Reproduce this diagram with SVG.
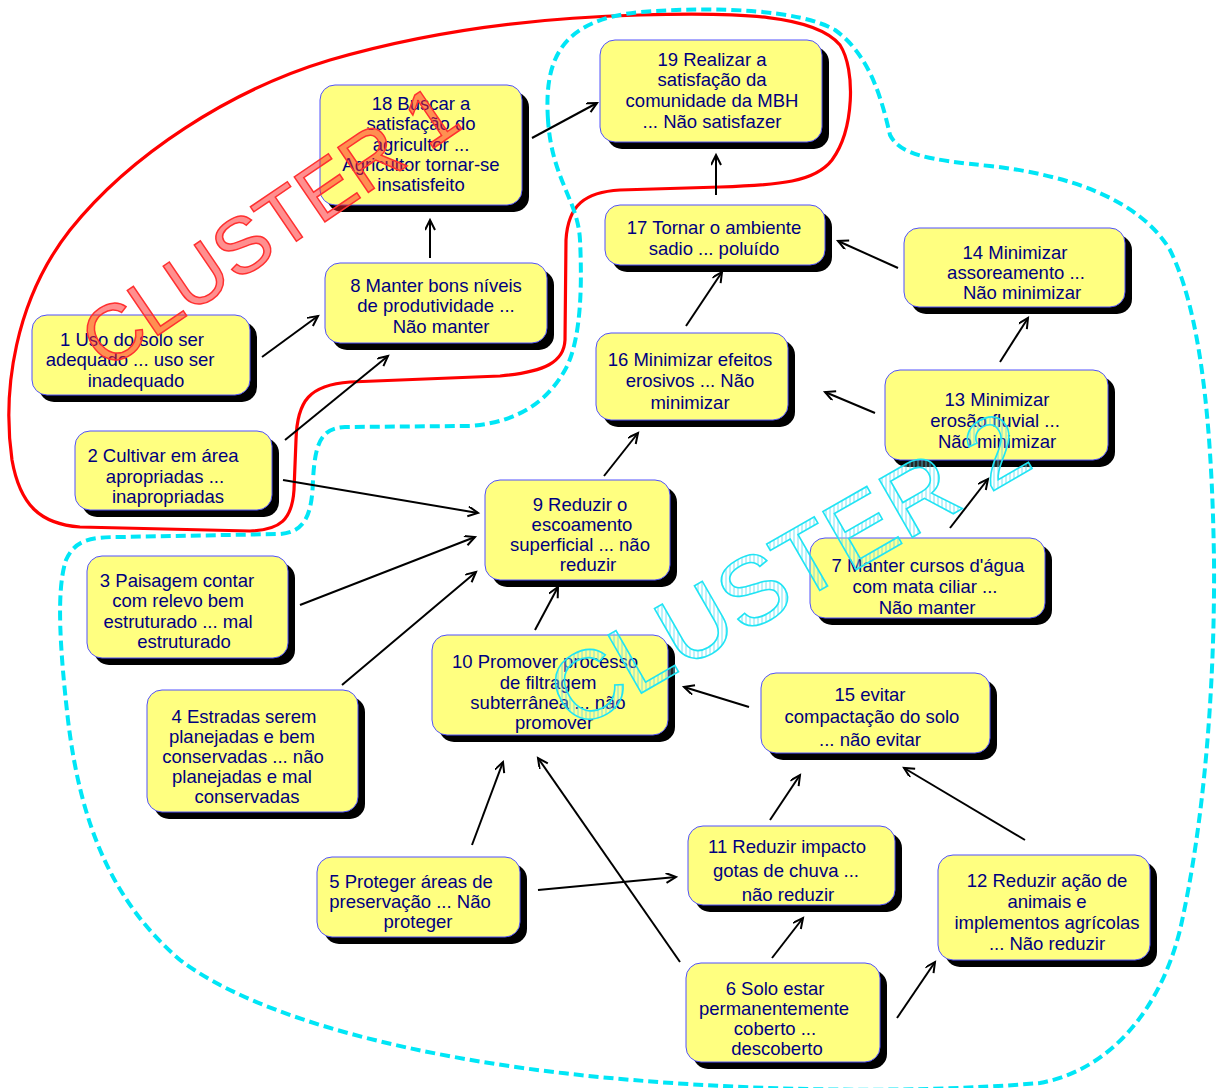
<svg xmlns="http://www.w3.org/2000/svg" width="1218" height="1088" viewBox="0 0 1218 1088">
<style>
.sh{fill:#000}
.bx{fill:#ffff80;stroke:#5050ff;stroke-width:1}
.t{font-family:"Liberation Sans",Arial,sans-serif;font-size:18.5px;fill:#000080;text-anchor:middle}
.c{stroke:#000;stroke-width:2;fill:none;marker-end:url(#ah)}
</style>
<defs>
<marker id="ah" markerUnits="userSpaceOnUse" markerWidth="14" markerHeight="12" refX="11" refY="5" orient="auto">
<path d="M1,0 L11,5 L1,10" fill="none" stroke="#000" stroke-width="2"/>
</marker>
<pattern id="hatch" patternUnits="userSpaceOnUse" width="4" height="4" patternTransform="rotate(29.9)">
<rect width="4" height="4" fill="#ffffff" fill-opacity="0.15"/>
<line x1="1" y1="0" x2="1" y2="4" stroke="#40d8ee" stroke-width="1" stroke-opacity="0.7"/>
</pattern>
</defs>
<rect width="1218" height="1088" fill="#fff"/>

<g id="clusters">
<path id="cluster1-boundary" d="M 640,15 C 740,12 815,15 840,45 C 856,70 854,130 832,160 C 815,182 780,185 720,187 L 620,190 C 585,192 568,205 566,240 L 565,340 C 564,362 545,372 500,376 L 350,382 C 310,385 297,400 296,440 L 294,490 C 292,520 280,530 250,531 L 80,527 C 40,524 20,505 12,460 C 2,390 15,300 70,230 C 130,155 230,90 330,60 C 450,25 560,17 640,15 Z" fill="none" stroke="#ff0000" stroke-width="3.2"/>
<path id="cluster2-boundary" d="M 548,120 C 544,60 560,20 640,12 C 720,6 800,10 835,30 C 870,55 882,100 890,135 C 900,155 930,160 990,166 C 1070,175 1140,200 1170,250 C 1200,310 1212,420 1214,560 C 1215,680 1205,820 1180,930 C 1160,1010 1110,1070 1040,1083 C 900,1095 720,1090 580,1075 C 420,1058 260,1020 180,960 C 110,900 80,820 68,720 C 60,650 56,590 66,560 C 75,540 90,537 120,537 L 280,534 C 305,532 312,515 313,480 C 315,445 320,428 345,427 L 470,426 C 520,422 548,400 565,370 C 582,340 582,280 580,240 C 578,200 552,180 548,120 Z" fill="none" stroke="#00e6f6" stroke-width="4" stroke-dasharray="10 5"/>
</g>

<g id="connectors">
<line class="c" x1="532" y1="138" x2="597" y2="103"/>
<line class="c" x1="430" y1="258" x2="430" y2="220"/>
<line class="c" x1="262" y1="357" x2="318" y2="316"/>
<line class="c" x1="285" y1="440" x2="388" y2="356"/>
<line class="c" x1="716" y1="195" x2="716" y2="155"/>
<line class="c" x1="686" y1="326" x2="722" y2="272"/>
<line class="c" x1="898" y1="268" x2="838" y2="241"/>
<line class="c" x1="1000" y1="362" x2="1028" y2="318"/>
<line class="c" x1="875" y1="413" x2="825" y2="392"/>
<line class="c" x1="604" y1="476" x2="638" y2="433"/>
<line class="c" x1="950" y1="528" x2="988" y2="479"/>
<line class="c" x1="283" y1="480" x2="478" y2="513"/>
<line class="c" x1="300" y1="605" x2="475" y2="537"/>
<line class="c" x1="342" y1="685" x2="476" y2="572"/>
<line class="c" x1="535" y1="630" x2="558" y2="587"/>
<line class="c" x1="749" y1="707" x2="684" y2="687"/>
<line class="c" x1="472" y1="845" x2="503" y2="762"/>
<line class="c" x1="680" y1="962" x2="538" y2="758"/>
<line class="c" x1="538" y1="890" x2="676" y2="877"/>
<line class="c" x1="772" y1="958" x2="803" y2="918"/>
<line class="c" x1="770" y1="820" x2="800" y2="775"/>
<line class="c" x1="1025" y1="840" x2="904" y2="768"/>
<line class="c" x1="897" y1="1018" x2="935" y2="962"/>
</g>

<g id="n19"><rect class="sh" x="607" y="47" width="222" height="102" rx="15"/><rect class="bx" x="600" y="40" width="222" height="102" rx="15"/>
<text class="t"><tspan x="712" y="66">19 Realizar a</tspan><tspan x="712" y="86">satisfação da</tspan><tspan x="712" y="107">comunidade da MBH</tspan><tspan x="712" y="128">... Não satisfazer</tspan></text></g>

<g id="n18"><rect class="sh" x="327" y="92" width="202" height="120" rx="15"/><rect class="bx" x="320" y="85" width="202" height="120" rx="15"/>
<text class="t"><tspan x="421" y="110">18 Buscar a</tspan><tspan x="421" y="130">satisfação do</tspan><tspan x="421" y="151">agricultor ...</tspan><tspan x="421" y="171">Agricultor tornar-se</tspan><tspan x="421" y="191">insatisfeito</tspan></text></g>

<g id="n8"><rect class="sh" x="332" y="270" width="222" height="80" rx="15"/><rect class="bx" x="325" y="263" width="222" height="80" rx="15"/>
<text class="t"><tspan x="436" y="292">8 Manter bons níveis</tspan><tspan x="436" y="312">de produtividade ...</tspan><tspan x="441" y="333">Não manter</tspan></text></g>

<g id="n1"><rect class="sh" x="39" y="322" width="218" height="80" rx="15"/><rect class="bx" x="32" y="315" width="218" height="80" rx="15"/>
<text class="t"><tspan x="132" y="346">1 Uso do solo ser</tspan><tspan x="130" y="366">adequado ... uso ser</tspan><tspan x="136" y="387">inadequado</tspan></text></g>

<g id="n2"><rect class="sh" x="82" y="438" width="197" height="79" rx="15"/><rect class="bx" x="75" y="431" width="197" height="79" rx="15"/>
<text class="t"><tspan x="163" y="462">2 Cultivar em área</tspan><tspan x="165" y="483">apropriadas ...</tspan><tspan x="168" y="503">inapropriadas</tspan></text></g>

<g id="n3"><rect class="sh" x="94" y="563" width="201" height="102" rx="15"/><rect class="bx" x="87" y="556" width="201" height="102" rx="15"/>
<text class="t"><tspan x="177" y="587">3 Paisagem contar</tspan><tspan x="178" y="607">com relevo bem</tspan><tspan x="178" y="628">estruturado ... mal</tspan><tspan x="184" y="648">estruturado</tspan></text></g>

<g id="n4"><rect class="sh" x="154" y="697" width="211" height="122" rx="15"/><rect class="bx" x="147" y="690" width="211" height="122" rx="15"/>
<text class="t"><tspan x="244" y="723">4 Estradas serem</tspan><tspan x="242" y="743">planejadas e bem</tspan><tspan x="243" y="763">conservadas ... não</tspan><tspan x="242" y="783">planejadas e mal</tspan><tspan x="247" y="803">conservadas</tspan></text></g>

<g id="n9"><rect class="sh" x="492" y="487" width="185" height="100" rx="15"/><rect class="bx" x="485" y="480" width="185" height="100" rx="15"/>
<text class="t"><tspan x="580" y="511">9 Reduzir o</tspan><tspan x="582" y="531">escoamento</tspan><tspan x="580" y="551">superficial ... não</tspan><tspan x="588" y="571">reduzir</tspan></text></g>

<g id="n10"><rect class="sh" x="439" y="642" width="236" height="100" rx="15"/><rect class="bx" x="432" y="635" width="236" height="100" rx="15"/>
<text class="t"><tspan x="545" y="668">10 Promover processo</tspan><tspan x="548" y="689">de filtragem</tspan><tspan x="548" y="709">subterrânea ... não</tspan><tspan x="554" y="729">promover</tspan></text></g>

<g id="n16"><rect class="sh" x="603" y="340" width="192" height="87" rx="15"/><rect class="bx" x="596" y="333" width="192" height="87" rx="15"/>
<text class="t"><tspan x="690" y="366">16 Minimizar efeitos</tspan><tspan x="690" y="387">erosivos ... Não</tspan><tspan x="690" y="409">minimizar</tspan></text></g>

<g id="n17"><rect class="sh" x="612" y="212" width="220" height="60" rx="15"/><rect class="bx" x="605" y="205" width="220" height="60" rx="15"/>
<text class="t"><tspan x="714" y="234">17 Tornar o ambiente</tspan><tspan x="714" y="255">sadio ... poluído</tspan></text></g>

<g id="n14"><rect class="sh" x="911" y="235" width="221" height="79" rx="15"/><rect class="bx" x="904" y="228" width="221" height="79" rx="15"/>
<text class="t"><tspan x="1015" y="259">14 Minimizar</tspan><tspan x="1016" y="279">assoreamento ...</tspan><tspan x="1022" y="299">Não minimizar</tspan></text></g>

<g id="n13"><rect class="sh" x="892" y="377" width="223" height="90" rx="15"/><rect class="bx" x="885" y="370" width="223" height="90" rx="15"/>
<text class="t"><tspan x="997" y="406">13 Minimizar</tspan><tspan x="995" y="427">erosão fluvial ...</tspan><tspan x="997" y="448">Não minimizar</tspan></text></g>

<g id="n7"><rect class="sh" x="817" y="545" width="235" height="80" rx="15"/><rect class="bx" x="810" y="538" width="235" height="80" rx="15"/>
<text class="t"><tspan x="928" y="572">7 Manter cursos d'água</tspan><tspan x="925" y="593">com mata ciliar ...</tspan><tspan x="927" y="614">Não manter</tspan></text></g>

<g id="n15"><rect class="sh" x="768" y="680" width="229" height="80" rx="15"/><rect class="bx" x="761" y="673" width="229" height="80" rx="15"/>
<text class="t"><tspan x="870" y="701">15 evitar</tspan><tspan x="872" y="723">compactação do solo</tspan><tspan x="870" y="746">... não evitar</tspan></text></g>

<g id="n11"><rect class="sh" x="695" y="833" width="207" height="79" rx="15"/><rect class="bx" x="688" y="826" width="207" height="79" rx="15"/>
<text class="t"><tspan x="787" y="853">11 Reduzir impacto</tspan><tspan x="786" y="877">gotas de chuva ...</tspan><tspan x="788" y="901">não reduzir</tspan></text></g>

<g id="n12"><rect class="sh" x="945" y="862" width="212" height="105" rx="15"/><rect class="bx" x="938" y="855" width="212" height="105" rx="15"/>
<text class="t"><tspan x="1047" y="887">12 Reduzir ação de</tspan><tspan x="1047" y="908">animais e</tspan><tspan x="1047" y="929">implementos agrícolas</tspan><tspan x="1047" y="950">... Não reduzir</tspan></text></g>

<g id="n5"><rect class="sh" x="324" y="864" width="203" height="80" rx="15"/><rect class="bx" x="317" y="857" width="203" height="80" rx="15"/>
<text class="t"><tspan x="411" y="888">5 Proteger áreas de</tspan><tspan x="410" y="908">preservação ... Não</tspan><tspan x="418" y="928">proteger</tspan></text></g>

<g id="n6"><rect class="sh" x="693" y="970" width="194" height="99" rx="15"/><rect class="bx" x="686" y="963" width="194" height="99" rx="15"/>
<text class="t"><tspan x="775" y="995">6 Solo estar</tspan><tspan x="774" y="1015">permanentemente</tspan><tspan x="775" y="1035">coberto ...</tspan><tspan x="777" y="1055">descoberto</tspan></text></g>

<g id="cluster-labels">
<text transform="translate(285,249) rotate(-34.2)" text-anchor="middle" font-family="Liberation Sans, Arial, sans-serif" font-size="79" fill="#ff2020" fill-opacity="0.5" stroke="#ff3030" stroke-width="1.5">CLUSTER 1</text>
<text transform="translate(805,599) rotate(-29.9)" text-anchor="middle" font-family="Liberation Sans, Arial, sans-serif" font-size="97" fill="url(#hatch)" stroke="#20e4f4" stroke-width="1.6">CLUSTER 2</text>
</g>
</svg>
